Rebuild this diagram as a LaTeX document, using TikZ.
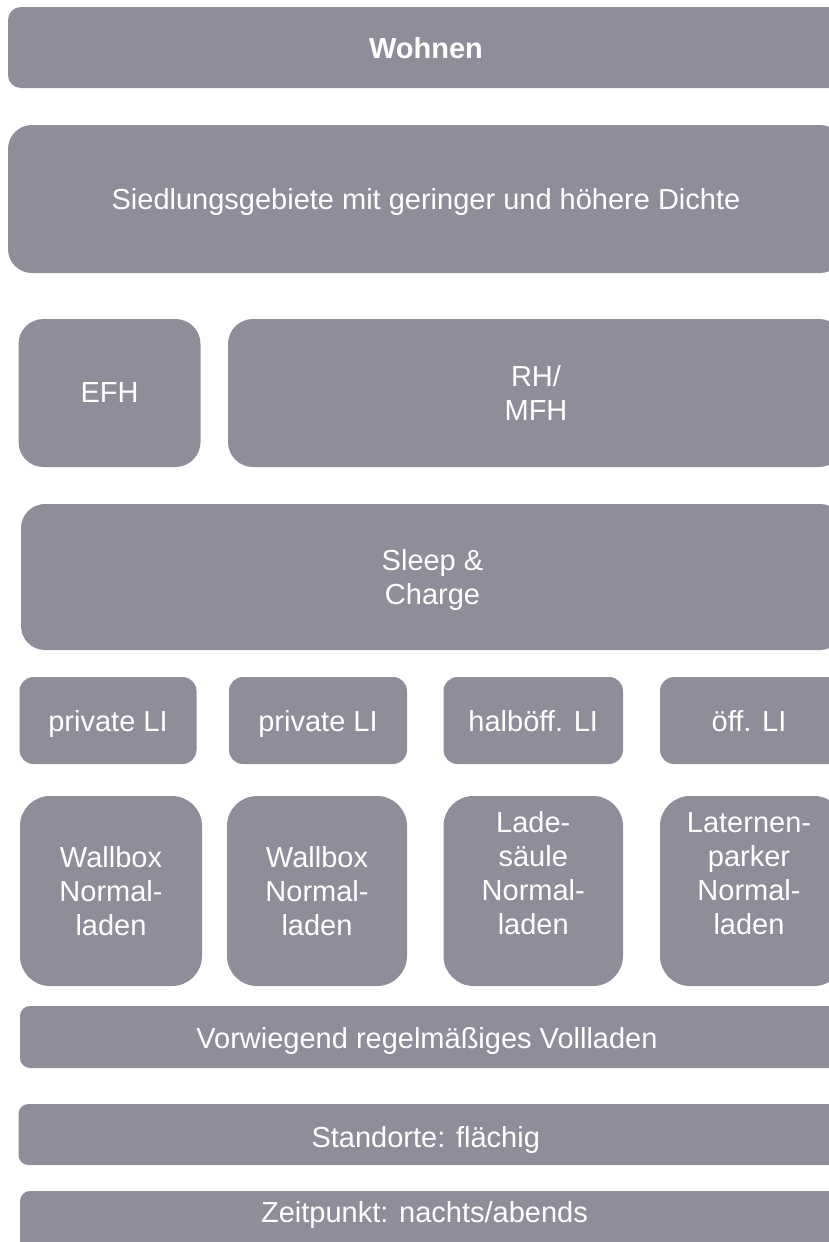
\documentclass[tikz,border=0pt]{standalone}
\usepackage{fontspec}
\setmainfont{Liberation Sans}
\definecolor{boxgray}{RGB}{142,141,154}
\begin{document}
\begin{tikzpicture}[x=1pt,y=-1pt,
  box/.style={fill=boxgray,draw=none,text=white,align=center,inner sep=0pt,
    font=\fontsize{29}{34}\selectfont},
  one/.style={text depth=0pt},
  txt/.style={text=white,align=center,inner sep=0pt,font=\fontsize{29}{34}\selectfont}]
\useasboundingbox (0,0) rectangle (828,1242);
\node[box,one,minimum width=836pt,minimum height=81pt,rounded corners=13pt,font=\fontsize{29}{34}\selectfont\bfseries] (wohnen) at (426,47.5) {Wohnen};
\node[box,one,minimum width=836pt,minimum height=148pt,rounded corners=24pt] (sied) at (426,199) {Siedlungsgebiete mit geringer und höhere Dichte};
\node[box,one,minimum width=182pt,minimum height=148pt,rounded corners=25pt] (efh) at (109.5,393) {EFH};
\node[box,minimum width=616pt,minimum height=148pt,rounded corners=25pt] (rh) at (536,393) {RH/\\MFH};
\node[box,minimum width=823pt,minimum height=146pt,rounded corners=24pt] (sleep) at (432.5,577) {};
\node[txt] (sleept) at (432.5,580) {Sleep \&\\Charge};
\node[box,one,minimum width=177pt,minimum height=87pt,rounded corners=14pt] (li1) at (108,720.5) {private LI};
\node[box,one,minimum width=178pt,minimum height=87pt,rounded corners=14pt] (li2) at (318,720.5) {private LI};
\node[box,one,minimum width=179.5pt,minimum height=87pt,rounded corners=14pt] (li3) at (533.25,720.5) {halböff. LI};
\node[box,one,minimum width=184pt,minimum height=87pt,rounded corners=14pt] (li4) at (752,720.5) {};
\node[txt,one] (li4t) at (749,720.5) {öff. LI};
\node[box,minimum width=182pt,minimum height=190pt,rounded corners=30pt] (ch1) at (111,891) {Wallbox\\Normal-\\laden};
\node[box,minimum width=180pt,minimum height=190pt,rounded corners=30pt] (ch2) at (317,891) {Wallbox\\Normal-\\laden};
\node[box,minimum width=179.5pt,minimum height=190pt,rounded corners=30pt] (ch3) at (533.25,891) {};
\node[txt] (ch3t) at (533.25,873.5) {Lade-\\säule\\Normal-\\laden};
\node[box,minimum width=184pt,minimum height=190pt,rounded corners=30pt] (ch4) at (752,891) {};
\node[txt] (ch4t) at (749,873.5) {Laternen-\\parker\\Normal-\\laden};
\node[box,minimum width=820pt,minimum height=62pt,rounded corners=10pt] (vor) at (430,1037) {};
\node[txt,one] (vort) at (427,1037.5) {Vorwiegend regelmäßiges Vollladen};
\node[box,minimum width=821.5pt,minimum height=61pt,rounded corners=10pt] (sta) at (429.25,1134.5) {};
\node[txt,one] (stat) at (425.75,1137) {Standorte: flächig};
\node[box,minimum width=820pt,minimum height=64pt,rounded corners=10pt] (zei) at (430,1223) {};
\node[txt,one] (zeit) at (424.5,1212) {Zeitpunkt: nachts/abends};
\end{tikzpicture}
\end{document}
